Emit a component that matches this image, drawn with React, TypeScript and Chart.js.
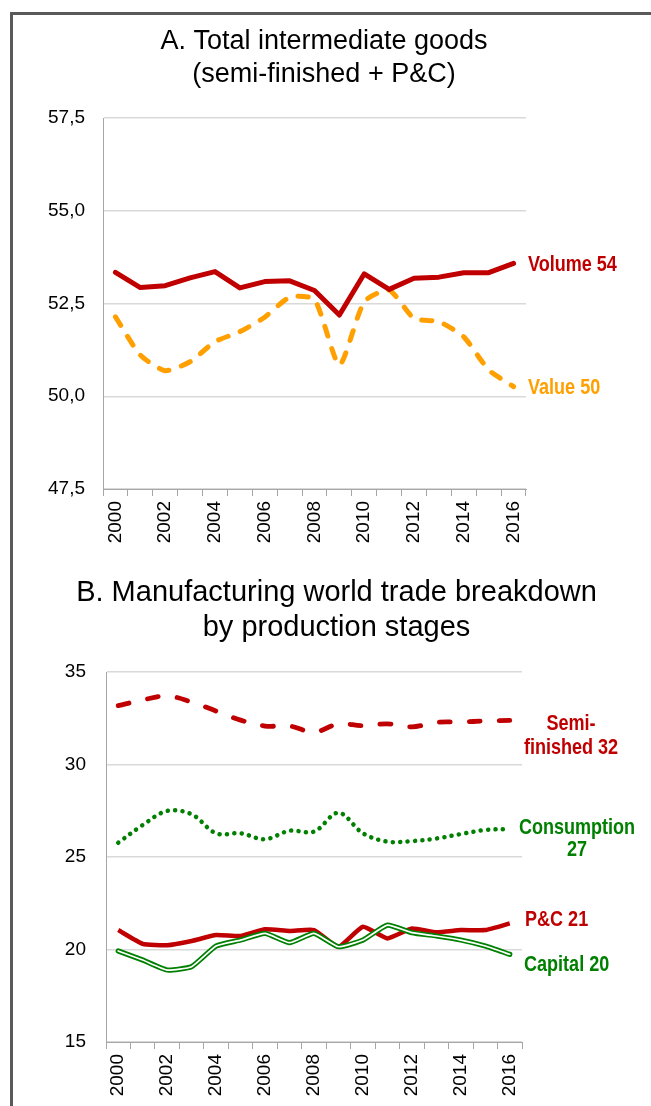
import React, { useEffect, useRef } from 'react';
import { Chart, registerables } from 'chart.js';

Chart.register(...registerables);

// ---------- data ----------
const years = ['2000', '2001', '2002', '2003', '2004', '2005', '2006', '2007', '2008', '2009', '2010', '2011', '2012', '2013', '2014', '2015', '2016'];
const shownYears = ['2000', '2002', '2004', '2006', '2008', '2010', '2012', '2014', '2016'];

// Panel A: total intermediate goods (share, %)
const volume = [53.34, 52.93, 52.98, 53.19, 53.36, 52.92, 53.09, 53.11, 52.85, 52.19, 53.30, 52.88, 53.18, 53.21, 53.33, 53.33, 53.58];
const value = [52.14, 51.11, 50.69, 50.93, 51.47, 51.74, 52.13, 52.67, 52.61, 50.84, 52.55, 52.86, 52.10, 52.01, 51.60, 50.71, 50.26];
const yTicksA = [47.5, 50.0, 52.5, 55.0, 57.5];

// Panel B: manufacturing world trade by production stage (share, %)
const semiFinished = [33.18, 33.49, 33.70, 33.38, 32.89, 32.40, 32.08, 32.08, 31.75, 32.19, 32.10, 32.20, 32.03, 32.28, 32.30, 32.35, 32.38];
const consumption = [25.77, 26.73, 27.49, 27.31, 26.28, 26.28, 25.96, 26.42, 26.37, 27.39, 26.28, 25.83, 25.86, 26.00, 26.24, 26.46, 26.51];
const partsComponents = [21.05, 20.30, 20.23, 20.46, 20.78, 20.73, 21.09, 21.00, 21.05, 20.15, 21.23, 20.60, 21.14, 20.93, 21.05, 21.05, 21.41];
const capital = [19.92, 19.43, 18.89, 19.07, 20.19, 20.51, 20.87, 20.37, 20.87, 20.15, 20.51, 21.32, 20.91, 20.73, 20.51, 20.19, 19.74];
const yTicksB = [15, 20, 25, 30, 35];

const titleA = ['A. Total intermediate goods', '(semi-finished + P&C)'];
const titleB = ['B. Manufacturing world trade breakdown', 'by production stages'];

// ---------- style ----------
const RED = '#C00000';
const ORANGE = '#FFA000';
const GREEN = '#008000';
const GRID = '#D9D9D9';
const AXIS = '#A6A6A6';
const SANS = "'Liberation Sans', Arial, sans-serif";

// Two-line chart heading centred on the canvas width
const headingPlugin = {
  id: 'heading',
  afterDraw(chart: any, _args: any, opts: any) {
    const { ctx } = chart;
    ctx.save();
    ctx.font = `${opts.size}px ${SANS}`;
    ctx.fillStyle = '#000';
    ctx.textAlign = 'center';
    ctx.textBaseline = 'middle';
    (opts.lines || []).forEach((line: string, i: number) => {
      ctx.fillText(line, chart.width / 2 + (opts.dx || 0), opts.y + i * opts.lineGap);
    });
    ctx.restore();
  },
};

// Series labels at the right end of each line (condensed bold text)
const endLabelsPlugin = {
  id: 'endLabels',
  afterDatasetsDraw(chart: any, _args: any, opts: any) {
    const { ctx, chartArea } = chart;
    (opts.items || []).forEach((item: any) => {
      const meta = chart.getDatasetMeta(item.datasetIndex);
      const pt = meta.data[meta.data.length - 1];
      if (!pt) return;
      item.lines.forEach((line: string, i: number) => {
        ctx.save();
        ctx.translate(chartArea.right + item.dx, pt.y + item.dy + i * (item.lineGap || 24));
        ctx.scale(0.82, 1);
        ctx.font = `bold 22px ${SANS}`;
        ctx.fillStyle = item.color;
        ctx.textAlign = item.align;
        ctx.textBaseline = 'middle';
        ctx.fillText(line, 0, 0);
        ctx.restore();
      });
    });
  },
};

function xAxis(height: number) {
  return {
    type: 'category',
    offset: true,
    grid: { display: true, drawOnChartArea: false, drawTicks: true, tickLength: 7, offset: true, color: AXIS, lineWidth: 1 },
    border: { display: true, color: AXIS, width: 1 },
    ticks: {
      autoSkip: false,
      maxRotation: 90,
      minRotation: 90,
      padding: 5,
      color: '#000',
      font: { family: SANS, size: 19 },
      callback: (_v: any, i: number) => (shownYears.includes(years[i]) ? years[i] : ''),
    },
    afterFit: (s: any) => {
      s.height = height;
    },
  };
}

function yAxis(ticks: number[], width: number, padding: number, fmt: (v: number) => string) {
  return {
    min: ticks[0],
    max: ticks[ticks.length - 1],
    afterBuildTicks: (s: any) => {
      s.ticks = ticks.map((v) => ({ value: v }));
    },
    grid: { color: GRID, lineWidth: 1.5, drawTicks: false },
    border: { display: true, color: AXIS, width: 1 },
    ticks: { padding, color: '#000', font: { family: SANS, size: 19 }, callback: (v: any) => fmt(Number(v)) },
    afterFit: (s: any) => {
      s.width = width;
    },
  };
}

function useChart(ref: React.RefObject<HTMLCanvasElement | null>, build: () => any) {
  useEffect(() => {
    if (!ref.current) return;
    const chart = new Chart(ref.current, build());
    return () => chart.destroy();
  }, []);
}

export default function App() {
  const refA = useRef<HTMLCanvasElement>(null);
  const refB = useRef<HTMLCanvasElement>(null);

  useChart(refA, () => ({
    type: 'line',
    data: {
      labels: years,
      datasets: [
        { label: 'Volume', data: volume, borderColor: RED, borderWidth: 5, pointRadius: 0, tension: 0, borderJoinStyle: 'round', borderCapStyle: 'round', fill: false },
        { label: 'Value', data: value, borderColor: ORANGE, borderWidth: 5, pointRadius: 0, tension: 0.2, borderDash: [10, 13], borderCapStyle: 'round', borderJoinStyle: 'round', fill: false },
      ],
    },
    options: {
      animation: false,
      responsive: false,
      layout: { padding: { top: 118, right: 125, bottom: 0, left: 0 } },
      plugins: {
        legend: { display: false },
        tooltip: { enabled: false },
        title: { display: false },
        heading: { lines: titleA, size: 27, y: 42, lineGap: 33, dx: -1.5 },
        endLabels: {
          items: [
            { datasetIndex: 0, lines: ['Volume 54'], color: RED, align: 'left', dx: 2, dy: 2 },
            { datasetIndex: 1, lines: ['Value 50'], color: ORANGE, align: 'left', dx: 2, dy: 1 },
          ],
        },
      },
      scales: {
        x: xAxis(71),
        y: yAxis(yTicksA, 103, 18, (v) => v.toFixed(1).replace('.', ',')),
      },
    },
    plugins: [headingPlugin, endLabelsPlugin],
  }));

  useChart(refB, () => ({
    type: 'line',
    data: {
      labels: years,
      datasets: [
        { label: 'Semi-finished', data: semiFinished, borderColor: RED, borderWidth: 4.8, pointRadius: 0, tension: 0.35, borderDash: [11, 19], borderCapStyle: 'round', fill: false, order: 4 },
        { label: 'Consumption', data: consumption, borderColor: GREEN, borderWidth: 4.5, pointRadius: 0, tension: 0.35, borderDash: [0.1, 7.3], borderCapStyle: 'round', fill: false, order: 3 },
        { label: 'P&C', data: partsComponents, borderColor: RED, borderWidth: 4.5, pointRadius: 0, tension: 0.15, borderJoinStyle: 'round', fill: false, order: 2 },
        { label: 'Capital', data: capital, borderColor: GREEN, borderWidth: 5.2, pointRadius: 0, tension: 0.15, borderJoinStyle: 'round', borderCapStyle: 'round', fill: false, order: 1 },
        { label: 'Capital (inner)', data: capital, borderColor: '#FFFFFF', borderWidth: 1.7, pointRadius: 0, tension: 0.15, borderJoinStyle: 'round', borderCapStyle: 'round', fill: false, order: 0 },
      ],
    },
    options: {
      animation: false,
      responsive: false,
      layout: { padding: { top: 112, right: 129, bottom: 0, left: 0 } },
      plugins: {
        legend: { display: false },
        tooltip: { enabled: false },
        title: { display: false },
        heading: { lines: titleB, size: 29, y: 33, lineGap: 35, dx: 11 },
        endLabels: {
          items: [
            { datasetIndex: 0, lines: ['Semi-', 'finished 32'], color: RED, align: 'center', dx: 49, dy: 3, lineGap: 24 },
            { datasetIndex: 1, lines: ['Consumption', '27'], color: GREEN, align: 'center', dx: 55, dy: -1, lineGap: 22 },
            { datasetIndex: 2, lines: ['P&C 21'], color: RED, align: 'left', dx: 3, dy: -3 },
            { datasetIndex: 3, lines: ['Capital 20'], color: GREEN, align: 'left', dx: 2, dy: 11 },
          ],
        },
      },
      scales: {
        x: xAxis(64),
        y: yAxis(yTicksB, 106, 20, (v) => String(v)),
      },
    },
    plugins: [headingPlugin, endLabelsPlugin],
  }));

  return (
    <div style={{ position: 'relative', width: 651, height: 1106, overflow: 'hidden', background: '#fff' }}>
      <style>{`html,body{margin:0;padding:0;overflow:hidden;background:#fff}`}</style>
      <canvas ref={refA} width={651} height={560} style={{ position: 'absolute', left: 0, top: 0, display: 'block' }} />
      <canvas ref={refB} width={651} height={546} style={{ position: 'absolute', left: 0, top: 560, display: 'block' }} />
      <div
        style={{
          position: 'absolute',
          left: 10,
          top: 12,
          width: 700,
          height: 1200,
          borderTop: '3px solid #595959',
          borderLeft: '3px solid #595959',
          pointerEvents: 'none',
        }}
      />
    </div>
  );
}
